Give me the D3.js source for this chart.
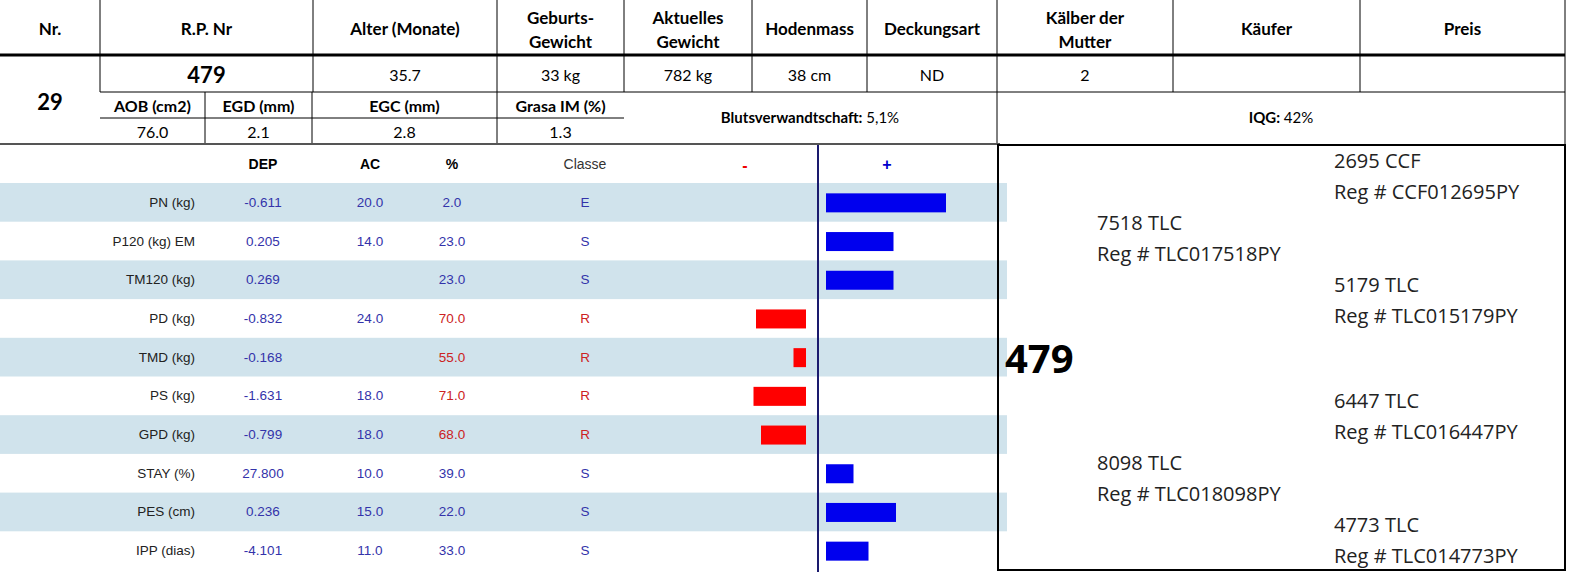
<!DOCTYPE html>
<html><head><meta charset="utf-8">
<script src="https://cdn.jsdelivr.net/npm/d3@7"></script>
<style>html,body{margin:0;background:#fff;overflow:hidden}svg{display:block}</style>
</head><body><svg id="c" width="1593" height="580"></svg>
<script>
// header cells
let headCols = [0, 100, 313, 497, 624, 752, 867, 997, 1173, 1360, 1565]
let headLabels = [['Nr.'], ['R.P. Nr'], ['Alter (Monate)'], ['Geburts-', 'Gewicht'], ['Aktuelles', 'Gewicht'], ['Hodenmass'], ['Deckungsart'], ['Kälber der', 'Mutter'], ['Käufer'], ['Preis']]
let row2Values = ['479', '35.7', '33 kg', '782 kg', '38 cm', 'ND', '2', '', '']
let subCols = [100, 205, 312, 497, 624]
let subLabels = ['AOB (cm2)', 'EGD (mm)', 'EGC (mm)', 'Grasa IM (%)']
let subValues = ['76.0', '2.1', '2.8', '1.3']

// trait table
let traits = ['PN (kg)', 'P120 (kg) EM', 'TM120 (kg)', 'PD (kg)', 'TMD (kg)', 'PS (kg)', 'GPD (kg)', 'STAY (%)', 'PES (cm)', 'IPP (dias)']
let dep = ['-0.611', '0.205', '0.269', '-0.832', '-0.168', '-1.631', '-0.799', '27.800', '0.236', '-4.101']
let ac = ['20.0', '14.0', '', '24.0', '', '18.0', '18.0', '10.0', '15.0', '11.0']
let pct = ['2.0', '23.0', '23.0', '70.0', '55.0', '71.0', '68.0', '39.0', '22.0', '33.0']
let classe = ['E', 'S', 'S', 'R', 'R', 'R', 'R', 'S', 'S', 'S']
let score = [48, 27, 27, -20, -5, -21, -18, 11, 28, 17]

// pedigree
let pedNames = ['2695 CCF', '7518 TLC', '5179 TLC', '6447 TLC', '8098 TLC', '4773 TLC']
let pedRegs = ['Reg # CCF012695PY', 'Reg # TLC017518PY', 'Reg # TLC015179PY', 'Reg # TLC016447PY', 'Reg # TLC018098PY', 'Reg # TLC014773PY']
let pedGen = [2, 1, 2, 2, 1, 2]

const svg = d3.select('#c')
const hf = 'Lato, "Open Sans", sans-serif'
const tf = '"Liberation Sans Narrow", "Liberation Sans", Arial, sans-serif'

function line(x1, y1, x2, y2, w, col) {
  svg.append('line').attr('x1', x1).attr('y1', y1).attr('x2', x2).attr('y2', y2)
    .attr('stroke', col || '#000').attr('stroke-width', w || 1)
}
function txt(x, y, s, o) {
  o = o || {}
  svg.append('text').attr('x', x).attr('y', y).text(s)
    .attr('font-family', o.f || hf).attr('font-size', o.s || 16)
    .attr('font-weight', o.b ? 'bold' : 'normal').attr('fill', o.c || '#000')
    .attr('text-anchor', o.a || 'middle').attr('dominant-baseline', 'central')
}

// top header
headLabels.forEach((l, i) => {
  let cx = (headCols[i] + headCols[i + 1]) / 2
  if (l.length == 1) txt(cx, 28, l[0], {b: 1, s: 17})
  else { txt(cx, 17, l[0], {b: 1, s: 17}); txt(cx, 41, l[1], {b: 1, s: 17}) }
})
headCols.slice(1, -1).forEach(x => line(x, 0, x, 92))
line(0, 55, 1565, 55, 3)
line(1565, 0, 1565, 145)
row2Values.forEach((v, i) => {
  let cx = (headCols[i + 1] + headCols[i + 2]) / 2
  txt(cx, 74, v, i == 0 ? {b: 1, s: 22} : {s: 16})
})
txt(50, 101, '29', {b: 1, s: 22})
line(100, 92, 1565, 92)
subCols.slice(1, -1).forEach(x => line(x, 92, x, 143))
line(997, 92, 997, 145)
line(100, 118, 624, 118)
subLabels.forEach((l, i) => {
  let cx = (subCols[i] + subCols[i + 1]) / 2
  txt(cx, 105, l, {b: 1, s: 16})
  txt(cx, 131, subValues[i], {s: 16})
})
svg.append('text').attr('x', 810).attr('y', 117).attr('text-anchor', 'middle').attr('dominant-baseline', 'central')
  .attr('font-family', hf).attr('font-size', 15)
  .call(t => { t.append('tspan').attr('font-weight', 'bold').text('Blutsverwandtschaft:'); t.append('tspan').text(' 5,1%') })
svg.append('text').attr('x', 1281).attr('y', 117).attr('text-anchor', 'middle').attr('dominant-baseline', 'central')
  .attr('font-family', hf).attr('font-size', 15)
  .call(t => { t.append('tspan').attr('font-weight', 'bold').text('IQG:'); t.append('tspan').text(' 42%') })
line(0, 144, 1000, 144, 2, '#555')

// trait rows
const y = d3.scaleBand().domain(traits).range([183, 570])
const x = d3.scaleLinear().domain([0, 50]).range([0, 125])
const cx0 = 818
traits.forEach((t, i) => {
  if (i % 2 == 0) svg.append('rect').attr('x', 0).attr('y', y(t)).attr('width', 1007).attr('height', y.bandwidth()).attr('fill', '#d0e3ec')
})
txt(263, 164, 'DEP', {f: tf, b: 1, s: 14})
txt(370, 164, 'AC', {f: tf, b: 1, s: 14})
txt(452, 164, '%', {f: tf, b: 1, s: 14})
txt(585, 164, 'Classe', {f: tf, s: 14, c: '#333'})
txt(745, 165, '-', {f: tf, b: 1, s: 16, c: '#e00'})
txt(887, 164, '+', {f: tf, b: 1, s: 16, c: '#00c'})
const blue = '#3333aa', red = '#cc2222'
traits.forEach((t, i) => {
  let ym = y(t) + y.bandwidth() / 2
  let col = classe[i] == 'R' ? red : blue
  txt(195, ym, t, {f: tf, s: 13.5, a: 'end', c: '#222'})
  txt(263, ym, dep[i], {f: tf, s: 13.5, c: blue})
  txt(370, ym, ac[i], {f: tf, s: 13.5, c: blue})
  txt(452, ym, pct[i], {f: tf, s: 13.5, c: col})
  txt(585, ym, classe[i], {f: tf, s: 13.5, c: col})
  let v = score[i]
  svg.append('rect').attr('y', ym - 9).attr('height', 19)
    .attr('x', v >= 0 ? cx0 + 8 : cx0 - 12 - x(-v)).attr('width', x(Math.abs(v)))
    .attr('fill', v >= 0 ? '#0000ee' : '#ff0000')
})
line(cx0, 145, cx0, 572, 2, '#1a1a6e')

// pedigree box
svg.append('rect').attr('x', 998).attr('y', 145).attr('width', 567).attr('height', 425)
  .attr('fill', 'none').attr('stroke', '#000').attr('stroke-width', 2)
txt(1005, 357, '479', {b: 1, s: 40, a: 'start', f: '"Open Sans", sans-serif'})
const py = [160, 222, 284, 400, 462, 524]
pedNames.forEach((n, i) => {
  let px = pedGen[i] == 2 ? 1334 : 1097
  txt(px, py[i], n, {s: 20, a: 'start', f: '"Open Sans", sans-serif', c: '#222'})
  txt(px, py[i] + 31, pedRegs[i], {s: 20, a: 'start', f: '"Open Sans", sans-serif', c: '#222'})
})
</script></body></html>
